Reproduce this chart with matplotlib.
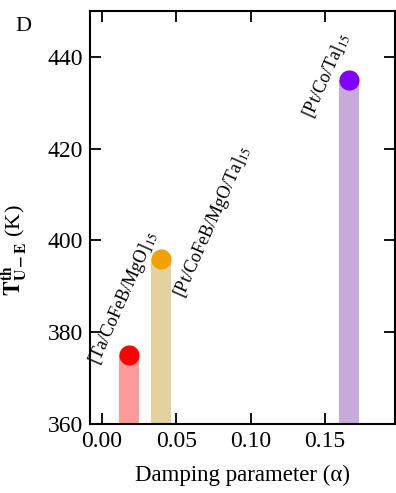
import matplotlib
matplotlib.use("Agg")
import matplotlib.pyplot as plt

# Data
labels = ["[Ta/CoFeB/MgO]$_{15}$", "[Pt/CoFeB/MgO/Ta]$_{15}$", "[Pt/Co/Ta]$_{15}$"]
damping = [0.018, 0.0395, 0.166]
temps = [375.0, 396.0, 435.0]
bar_colors = ["#ff9a9a", "#e3d19e", "#c7a9da"]
marker_colors = ["#ff0000", "#f2a100", "#7f00ff"]
xticks = [0.00, 0.05, 0.10, 0.15]
yticks = [360, 380, 400, 420, 440]

plt.rcParams['font.family'] = ['Liberation Serif', 'DejaVu Serif']
plt.rcParams['mathtext.fontset'] = 'stix'

fig = plt.figure(figsize=(3.96, 4.93), dpi=100)
ax = fig.add_axes([0.227, 0.14, 0.7705, 0.838])

ymin = 360
for x, t, bc, mc in zip(damping, temps, bar_colors, marker_colors):
    ax.bar(x, t - ymin, bottom=ymin, width=0.0134, color=bc, zorder=2)
    ax.plot([x], [t], 'o', color=mc, markersize=14.5, zorder=3, markeredgewidth=0)

# annotations
text_pos = [(0.0148, 387.5), (0.0745, 404), (0.151, 436)]
for (tx, ty), lab in zip(text_pos, labels):
    ax.text(tx, ty, lab, rotation=66, ha='center', va='center', fontsize=13,
            rotation_mode='anchor')

ax.set_xlim(-0.008, 0.197)
ax.set_ylim(360, 450)
ax.set_xticks(xticks)
ax.set_xticklabels(["%.2f" % v for v in xticks])
ax.set_yticks(yticks)
ax.tick_params(direction='in', length=8, width=1.3, top=True, right=True,
               labelsize=17, pad=5)
ax.tick_params(axis='x', labeltop=False)
for s in ax.spines.values():
    s.set_linewidth(1.5)

ax.set_xlabel("Damping parameter (α)", fontsize=16.5, labelpad=9)
ax.set_ylabel(r"$\mathbf{T}^{\mathbf{th}}_{\mathbf{U-E}}$ (K)", fontsize=16)
ax.yaxis.set_label_coords(-0.2, 0.42)

fig.text(0.038, 0.947, "D", fontsize=16, ha='left', va='center')

fig.savefig("out.png", dpi=100)
